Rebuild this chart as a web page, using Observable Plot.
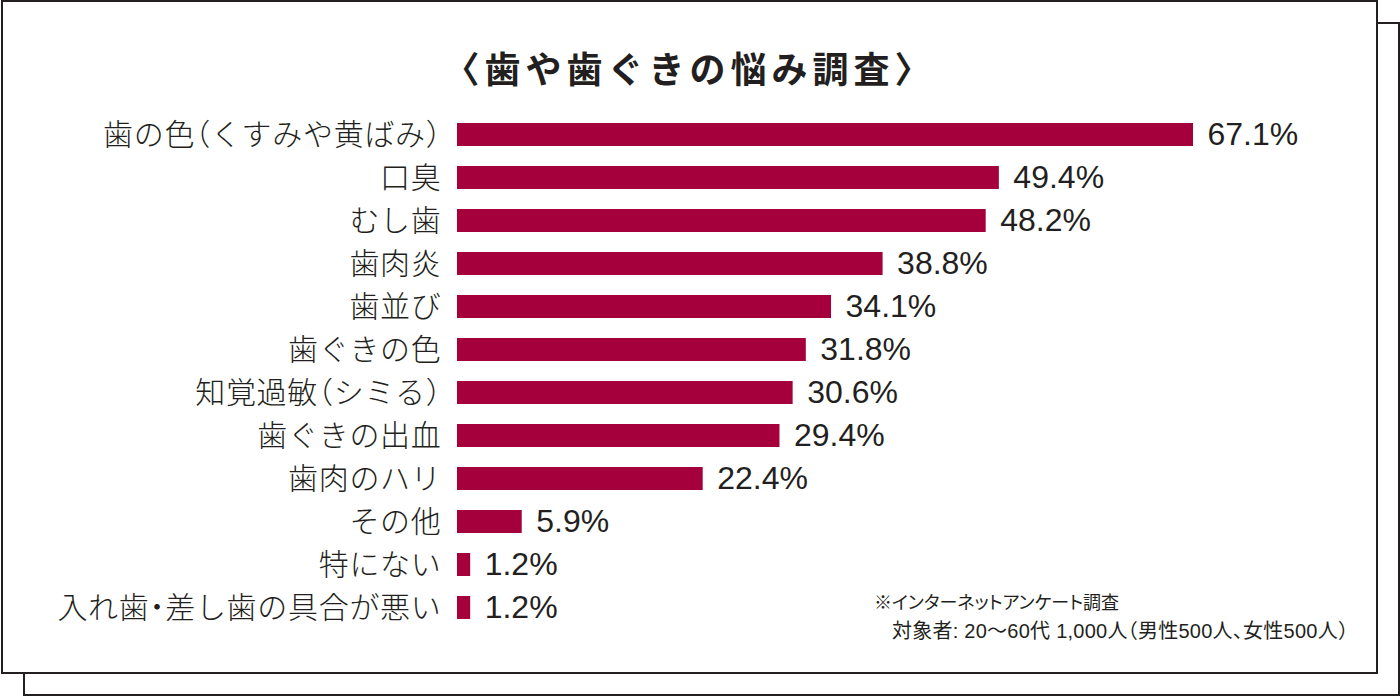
<!DOCTYPE html>
<html lang="ja">
<head>
<meta charset="utf-8">
<script src="https://cdn.jsdelivr.net/npm/d3@7"></script>
<script src="https://cdn.jsdelivr.net/npm/@observablehq/plot@0.6"></script>
<style>
  html, body { margin: 0; padding: 0; background: #ffffff; }
  #wrap { position: relative; width: 1400px; height: 696px; overflow: hidden; background: #fff; }
  .frame { position: absolute; box-sizing: border-box; border: 2px solid #231f20; background: #fff; }
  #back { left: 23px; top: 22px; width: 1377px; height: 674px; }
  #front { left: 1px; top: 0px; width: 1377px; height: 674px; }
  #title { position: absolute; left: 1px; width: 1377px; top: 41px; text-align: center;
    font-family: "Noto Sans CJK JP", sans-serif; font-weight: 700; font-size: 36px; letter-spacing: 5px; color: #231f20; }
  #plot { position: absolute; left: 0; top: 0; }
  #plot text { font-feature-settings: "halt"; }
  #plot .cat text, #plot .cat { letter-spacing: 0.7px; }
  .note { position: absolute; font-family: "Liberation Sans", "Noto Sans CJK JP", sans-serif; color: #231f20; white-space: nowrap; font-weight: 400; }
</style>
</head>
<body>
<div id="wrap">
  <div class="frame" id="back"></div>
  <div class="frame" id="front"></div>
  <div id="title">〈歯や歯ぐきの悩み調査〉</div>
  <div id="plot"></div>
  <div class="note" id="note1" style="left:874px; top:588px; font-size:18px; font-feature-settings:'palt';">※インターネットアンケート調査</div>
  <div class="note" id="note2" style="left:892px; top:615px; font-size:20px; letter-spacing:0.25px; font-feature-settings:'halt';">対象者: 20〜60代 1,000人（男性500人、女性500人）</div>
</div>
<script>
const categories = [
  "歯の色（くすみや黄ばみ）",
  "口臭",
  "むし歯",
  "歯肉炎",
  "歯並び",
  "歯ぐきの色",
  "知覚過敏（シミる）",
  "歯ぐきの出血",
  "歯肉のハリ",
  "その他",
  "特にない",
  "入れ歯・差し歯の具合が悪い"
];
const values = [67.1, 49.4, 48.2, 38.8, 34.1, 31.8, 30.6, 29.4, 22.4, 5.9, 1.2, 1.2];

const data = categories.map((c, i) => ({category: c, value: values[i]}));
const barColor = "#a6003c";

const chart = Plot.plot({
  width: 1400,
  height: 696,
  marginLeft: 457,
  marginRight: 207,
  marginTop: 102,
  marginBottom: 56,
  style: {background: "transparent", overflow: "visible"},
  x: {domain: [0, d3.max(values)], axis: null},
  y: {domain: categories, padding: 0.47, axis: null},
  marks: [
    Plot.barX(data, {x: "value", y: "category", fill: barColor}),
    Plot.text(data, {
      y: "category", text: "category", frameAnchor: "left", textAnchor: "end", dx: -16,
      fontSize: 30, fontFamily: "Noto Sans CJK JP", fontWeight: 300, fill: "#231f20", className: "cat"
    }),
    Plot.text(data, {
      x: "value", y: "category", text: d => d.value.toFixed(1) + "%", textAnchor: "start", dx: 14,
      fontSize: 32, fontFamily: "Liberation Sans", fill: "#231f20"
    })
  ]
});
document.getElementById("plot").appendChild(chart);
</script>
</body>
</html>
